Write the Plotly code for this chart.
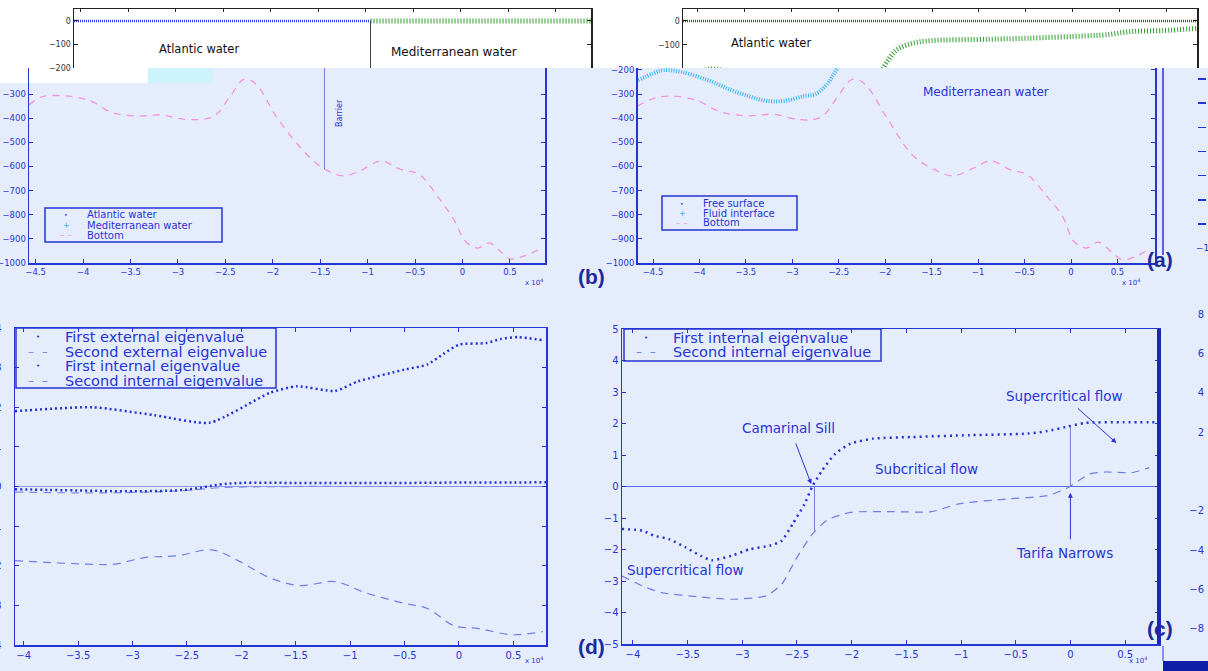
import plotly.graph_objects as go

W, H = 1208, 671
BLUE = "#2634d4"
DARK = "#1c2a9c"
BG = "#e5edfd"
PINK = "#f291e2"
CYAN = "#36b4ee"
GREEN = "#2e9e2e"
LBLUE = "#6f7de4"
FONT = "DejaVu Sans, Liberation Sans, Arial, sans-serif"
AFONT = "Liberation Sans, Arial, sans-serif"

# ---------------- data (x in units of 1e4 m) ----------------
# top-left strip: layers at free surface
atl_x = [-4.57, -1.45]
atl_y = [0, 0]
med_x = [-1.45, 0.87]
med_y = [0, 0]

# panel (b) bottom profile
bot_b_x = [-4.57, -4.43, -4.22, -4.06, -3.9, -3.7, -3.45, -3.17, -2.93, -2.68, -2.6, -2.44, -2.3,
           -2.18, -1.95, -1.67, -1.47, -1.26, -1.06, -0.86, -0.66, -0.45, -0.25, -0.09, 0.03, 0.16,
           0.28, 0.4, 0.5, 0.64, 0.84]
bot_b_y = [-345, -311, -307, -314, -332, -376, -391, -387, -405, -401, -387, -304, -238,
           -258, -401, -538, -607, -639, -614, -577, -611, -635, -731, -821, -910, -938,
           -917, -952, -983, -972, -938]
barrier_x = -1.455
barrier_bottom = -612

# panel (a) / right strip
surf_x = [-4.66, 0.83]
surf_y = [0, 0]
iface_x = [-4.66, -4.5, -4.39, -4.2, -3.91, -3.66, -3.45, -3.28, -3.08, -2.87, -2.75, -2.62, -2.55,
           -2.48, -2.38, -2.21, -2.01, -1.39, -0.98, -0.36, -0.15, 0.13, 0.46, 0.83]
iface_y = [-242, -215, -201, -208, -242, -283, -311, -328, -328, -308, -300, -256, -215,
           -170, -121, -93, -82, -76, -72, -62, -58, -44, -40, -31]
bot_a_x = [-4.67, -4.49, -4.32, -4.11, -3.99, -3.78, -3.49, -3.2, -2.95, -2.77, -2.66, -2.5, -2.35,
           -2.22, -2.0, -1.71, -1.5, -1.27, -1.05, -0.86, -0.67, -0.47, -0.26, -0.09, 0.03, 0.16,
           0.3, 0.45, 0.55, 0.7, 0.86]
bot_a_y = [-350, -318, -308, -318, -332, -373, -390, -384, -405, -405, -387, -304, -238,
           -258, -387, -552, -607, -639, -607, -577, -611, -635, -724, -807, -910, -938,
           -914, -959, -986, -972, -938]

# panel (d) eigenvalues
ext1_x = [-4.08, -3.37, -2.8, -2.29, -1.74, -1.49, -1.14, -0.93, -0.5, -0.29, -0.14, 0.0, 0.25, 0.38, 0.54, 0.77]
ext1_y = [1.9, 2.0, 1.8, 1.61, 2.36, 2.53, 2.41, 2.65, 2.95, 3.08, 3.35, 3.58, 3.62, 3.72, 3.77, 3.69]
ext2_x = [-4.08, -3.5, -3.0, -2.5, -2.2, -1.5, -1.0, -0.5, 0.0, 0.5, 0.8]
ext2_y = [-0.14, -0.16, -0.15, -0.1, -0.03, 0.0, 0.0, 0.0, 0.0, 0.0, 0.0]
int1d_x = [-4.08, -3.5, -3.0, -2.5, -2.2, -2.0, -1.5, -1.0, -0.5, 0.0, 0.5, 0.8]
int1d_y = [-0.07, -0.1, -0.12, -0.08, 0.05, 0.09, 0.09, 0.09, 0.09, 0.1, 0.1, 0.11]
int2d_x = [-4.08, -3.4, -3.17, -2.88, -2.59, -2.27, -2.03, -1.74, -1.46, -1.14, -0.86, -0.5, -0.29,
           -0.04, 0.17, 0.49, 0.77]
int2d_y = [-1.87, -1.96, -1.96, -1.79, -1.75, -1.6, -1.87, -2.3, -2.5, -2.4, -2.68, -2.95, -3.08,
           -3.52, -3.58, -3.74, -3.66]

# panel (c) internal eigenvalues
int1c_x = [-4.1, -3.91, -3.81, -3.67, -3.52, -3.38, -3.28, -3.1, -2.93, -2.75, -2.64, -2.54, -2.43,
           -2.36, -2.27, -2.15, -2.01, -1.8, -1.45, -0.92, -0.39, -0.21, -0.04, 0.14, 0.49, 0.81]
int1c_y = [-1.35, -1.4, -1.56, -1.67, -1.93, -2.2, -2.34, -2.2, -1.99, -1.88, -1.72, -1.19, -0.55,
           0.0, 0.51, 1.04, 1.36, 1.52, 1.57, 1.63, 1.68, 1.76, 1.89, 2.02, 2.04, 2.04]
int2c_x = [-4.1, -3.91, -3.74, -3.38, -3.1, -2.78, -2.64, -2.5, -2.36, -2.22, -2.01, -1.62, -1.27,
           -1.02, -0.56, -0.21, -0.04, 0.18, 0.32, 0.56, 0.72]
int2c_y = [-2.84, -3.16, -3.37, -3.51, -3.58, -3.47, -3.1, -2.25, -1.51, -1.06, -0.82, -0.8, -0.8,
           -0.55, -0.39, -0.29, -0.07, 0.4, 0.46, 0.44, 0.6]
sill_x = -2.34
sill_y = [0, -1.4]
tarifa_x = 0.0
tarifa_y = [1.9, 0]

x_ticks = [-4.5, -4, -3.5, -3, -2.5, -2, -1.5, -1, -0.5, 0, 0.5]


def fx(p):
    return p / W


def fy(p):
    return 1 - p / H


def xdom(a, b):
    return [fx(a), fx(b)]


def ydom(top, bottom):
    return [fy(bottom), fy(top)]


def fmt(v):
    if v == 0:
        return "0"
    s = ("%g" % abs(v))
    return ("\u2212" + s) if v < 0 else s


fig = go.Figure()

# ---- top-left strip (x, y) ----
fig.add_trace(go.Scatter(x=atl_x, y=atl_y, mode="lines", xaxis="x", yaxis="y", showlegend=False,
                         line=dict(color="#2a3ee0", width=2.5, dash="1px,1px")))
fig.add_trace(go.Scatter(x=med_x, y=med_y, mode="lines", xaxis="x", yaxis="y", showlegend=False,
                         line=dict(color=GREEN, width=5, dash="1px,2px")))
# ---- top-right strip (x2, y2) ----
fig.add_trace(go.Scatter(x=surf_x, y=surf_y, mode="lines", xaxis="x2", yaxis="y2", showlegend=False,
                         line=dict(color="#2a3ee0", width=2.5, dash="1px,1px")))
fig.add_trace(go.Scatter(x=iface_x, y=iface_y, mode="lines", xaxis="x2", yaxis="y2", showlegend=False,
                         line=dict(color=GREEN, width=5, dash="1px,2px", shape="spline")))

# ---- panel (b) (x3, y3) ----
fig.add_trace(go.Scatter(x=atl_x, y=atl_y, mode="lines", name="Atlantic water", xaxis="x3", yaxis="y3",
                         showlegend=False, line=dict(color=BLUE, width=2, dash="2px,3px")))
fig.add_trace(go.Scatter(x=med_x, y=med_y, mode="lines", name="Mediterranean water", xaxis="x3", yaxis="y3",
                         showlegend=False, line=dict(color=CYAN, width=3, dash="1px,2px")))
fig.add_trace(go.Scatter(x=bot_b_x, y=bot_b_y, mode="lines", name="Bottom", xaxis="x3", yaxis="y3",
                         showlegend=False, line=dict(color=PINK, width=1.3, dash="7px,6px", shape="spline")))

# ---- panel (a) (x4, y4) ----
fig.add_trace(go.Scatter(x=surf_x, y=surf_y, mode="lines", name="Free surface", xaxis="x4", yaxis="y4",
                         showlegend=False, line=dict(color=BLUE, width=2, dash="2px,3px")))
fig.add_trace(go.Scatter(x=iface_x, y=iface_y, mode="lines", name="Fluid interface", xaxis="x4", yaxis="y4",
                         showlegend=False, line=dict(color=CYAN, width=4, dash="1px,1.5px", shape="spline")))
fig.add_trace(go.Scatter(x=bot_a_x, y=bot_a_y, mode="lines", name="Bottom", xaxis="x4", yaxis="y4",
                         showlegend=False, line=dict(color=PINK, width=1.3, dash="7px,6px", shape="spline")))

# ---- panel (d) (x5, y5) ----
fig.add_trace(go.Scatter(x=ext1_x, y=ext1_y, mode="lines", name="First external eigenvalue", xaxis="x5",
                         yaxis="y5", showlegend=False,
                         line=dict(color=BLUE, width=2.5, dash="2px,3px", shape="spline", smoothing=0.6)))
fig.add_trace(go.Scatter(x=ext2_x, y=ext2_y, mode="lines", name="Second external eigenvalue", xaxis="x5",
                         yaxis="y5", showlegend=False,
                         line=dict(color="#7d8ae6", width=1.2, dash="8px,6px", shape="spline")))
fig.add_trace(go.Scatter(x=int1d_x, y=int1d_y, mode="lines", name="First internal eigenvalue", xaxis="x5",
                         yaxis="y5", showlegend=False,
                         line=dict(color=BLUE, width=2.5, dash="2px,3px", shape="spline")))
fig.add_trace(go.Scatter(x=int2d_x, y=int2d_y, mode="lines", name="Second internal eigenvalue", xaxis="x5",
                         yaxis="y5", showlegend=False,
                         line=dict(color=LBLUE, width=1.2, dash="8px,6px", shape="spline")))

# ---- panel (c) (x6, y6) ----
fig.add_trace(go.Scatter(x=int1c_x, y=int1c_y, mode="lines", name="First internal eigenvalue", xaxis="x6",
                         yaxis="y6", showlegend=False,
                         line=dict(color=BLUE, width=2.5, dash="2px,4px", shape="spline", smoothing=0.6)))
fig.add_trace(go.Scatter(x=int2c_x, y=int2c_y, mode="lines", name="Second internal eigenvalue", xaxis="x6",
                         yaxis="y6", showlegend=False,
                         line=dict(color=LBLUE, width=1.2, dash="8px,6px", shape="spline", smoothing=0.6)))
fig.add_trace(go.Scatter(x=[sill_x, sill_x], y=sill_y, mode="lines", xaxis="x6", yaxis="y6", showlegend=False,
                         line=dict(color=LBLUE, width=1)))
fig.add_trace(go.Scatter(x=[tarifa_x, tarifa_x], y=tarifa_y, mode="lines", xaxis="x6", yaxis="y6",
                         showlegend=False, line=dict(color=LBLUE, width=1)))

# dummy traces for edge axes
fig.add_trace(go.Scatter(x=[None], y=[None], xaxis="x7", yaxis="y7", showlegend=False))
fig.add_trace(go.Scatter(x=[None], y=[None], xaxis="x8", yaxis="y8", showlegend=False))

tf_small = dict(family=FONT, size=8.5, color=BLUE)
tf_big = dict(family=FONT, size=10, color=BLUE)
xtxt = [fmt(v) for v in x_ticks]

common_blue_x = dict(showgrid=False, zeroline=False, showline=True, linecolor=BLUE, linewidth=1.5,
                     ticks="inside", ticklen=4, tickcolor=BLUE, tickvals=x_ticks, ticktext=xtxt,
                     automargin=False)
ycommon = dict(showgrid=False, showline=True, linewidth=1.5, mirror="ticks", ticks="inside", ticklen=4,
               automargin=False)

layout = dict(
    template="none",
    width=W, height=H, margin=dict(l=0, r=0, t=0, b=0, pad=0), paper_bgcolor=BG, plot_bgcolor=BG,
    font=dict(family=FONT, color=BLUE), showlegend=False, hovermode=False,
    # top-left strip
    xaxis=dict(domain=xdom(74, 591), range=[-4.57, 0.87], anchor="y", side="top", showgrid=False,
               zeroline=False, showline=True, linecolor="#222", linewidth=1, ticks="inside", ticklen=3,
               tickcolor="#222", tickvals=x_ticks, showticklabels=False, automargin=False),
    yaxis=dict(domain=ydom(9, 68), range=[-201, 51], anchor="x", zeroline=False, linecolor="#222",
               tickcolor="#222", tickvals=[0, -100, -200], ticktext=["0", "\u2212100", "\u2212200"],
               tickfont=dict(family=FONT, size=8, color="#333"), **ycommon),
    # top-right strip
    xaxis2=dict(domain=xdom(683, 1197), range=[-4.66, 0.83], anchor="y2", side="top", showgrid=False,
                zeroline=False, showline=True, linecolor="#222", linewidth=1, ticks="inside", ticklen=3,
                tickcolor="#222", tickvals=x_ticks, showticklabels=False, automargin=False),
    yaxis2=dict(domain=ydom(9, 68), range=[-196, 50], anchor="x2", zeroline=False, linecolor="#222",
                tickcolor="#222", tickvals=[0, -100], ticktext=["0", "\u2212100"],
                tickfont=dict(family=FONT, size=8, color="#333"), **ycommon),
    # panel (b)
    xaxis3=dict(domain=xdom(29, 545), range=[-4.57, 0.87], anchor="y3", tickfont=tf_small, **common_blue_x),
    yaxis3=dict(domain=ydom(68, 263), range=[-1000, -192], anchor="x3", zeroline=False, linecolor=BLUE,
                tickcolor=BLUE, tickvals=[-300, -400, -500, -600, -700, -800, -900, -1000],
                tickfont=tf_small, **ycommon),
    # panel (a)
    xaxis4=dict(domain=xdom(637.5, 1155), range=[-4.667, 0.904], anchor="y4", tickfont=tf_small,
                **common_blue_x),
    yaxis4=dict(domain=ydom(68, 263), range=[-1000, -192], anchor="x4", zeroline=False, linecolor=BLUE,
                tickcolor=BLUE, dtick=100, tickfont=tf_small, **ycommon),
    # panel (d)
    xaxis5=dict(domain=xdom(15, 546), range=[-4.08, 0.8], anchor="y5", mirror="ticks", tickfont=tf_big,
                **common_blue_x),
    yaxis5=dict(domain=ydom(328, 645), range=[-4, 4], anchor="x5", zeroline=True, zerolinecolor="#8c98ea",
                zerolinewidth=1, linecolor=BLUE, tickcolor=BLUE, dtick=1, tickfont=tf_big,
                ticklabelstandoff=10, **ycommon),
    # panel (c)
    xaxis6=dict(domain=xdom(622, 1159), range=[-4.1, 0.81], anchor="y6", mirror="ticks", tickfont=tf_big,
                **common_blue_x),
    yaxis6=dict(domain=ydom(329, 644), range=[-5, 5], anchor="x6", zeroline=True, zerolinecolor="#5b6ae0",
                zerolinewidth=1, linecolor=BLUE, tickcolor=BLUE, dtick=1, tickfont=tf_big, **ycommon),
    # right-edge partial axes
    xaxis7=dict(domain=xdom(1198, 1207), range=[0, 1], anchor="y7", visible=False),
    yaxis7=dict(domain=ydom(68, 262), range=[-1057, -254.5], anchor="x7", showgrid=False, zeroline=False,
                showline=False, ticks="inside", ticklen=8, tickcolor=BLUE, tickwidth=1.5, automargin=False,
                tickvals=[-300, -400, -500, -600, -700, -800, -900], showticklabels=False),
    xaxis8=dict(domain=xdom(1205, 1207), range=[0, 1], anchor="y8", visible=False),
    yaxis8=dict(domain=ydom(300, 660), range=[-9.59, 8.72], anchor="x8", showgrid=False, zeroline=False,
                showline=False, ticks="", tickvals=[8, 6, 4, 2, -2, -4, -6, -8], tickfont=tf_big,
                automargin=False),
)
fig.update_layout(**layout)

shapes = [
    dict(type="rect", xref="paper", yref="paper", x0=0, x1=1, y0=fy(68), y1=1, fillcolor="white",
         line=dict(width=0), layer="below"),
    dict(type="rect", xref="paper", yref="paper", x0=0, x1=fx(148), y0=fy(83), y1=fy(68), fillcolor="white",
         line=dict(width=0), layer="below"),
    dict(type="rect", xref="paper", yref="paper", x0=fx(148), x1=fx(213), y0=fy(83), y1=fy(68),
         fillcolor="#cdf3fd", line=dict(width=0), layer="below"),
    dict(type="line", xref="x3", yref="y3", x0=barrier_x, x1=barrier_x, y0=-192, y1=barrier_bottom,
         line=dict(color=LBLUE, width=1)),
    dict(type="line", xref="x", yref="y", x0=med_x[0], x1=med_x[0], y0=0, y1=-201,
         line=dict(color="#444", width=1)),
    dict(type="line", xref="x6 domain", yref="y6 domain", x0=1, x1=1, y0=0, y1=1,
         line=dict(color="#1a28b8", width=4)),
    dict(type="line", xref="paper", yref="paper", x0=fx(1163), x1=fx(1163), y0=fy(255), y1=fy(68),
         line=dict(color=BLUE, width=1.5)),
    dict(type="rect", xref="paper", yref="paper", x0=fx(1163), x1=1, y0=0, y1=fy(661), fillcolor="#0e1ea8",
         line=dict(width=0)),
    dict(type="line", xref="paper", yref="paper", x0=fx(1163), x1=fx(1163), y0=fy(661), y1=fy(646),
         line=dict(color=BLUE, width=1)),
]

ann = []


def add_legend(box, rows, sym_x, lab_x, size):
    x0, y0, x1, y1 = box
    shapes.append(dict(type="rect", xref="paper", yref="paper", x0=fx(x0), x1=fx(x1), y0=fy(y1), y1=fy(y0),
                       line=dict(color=BLUE, width=1.5), layer="above"))
    for sym, scol, ssize, label, yy in rows:
        ann.append(dict(xref="paper", yref="paper", x=fx(sym_x), y=fy(yy), text=sym, showarrow=False,
                        xanchor="center", yanchor="middle", font=dict(family=FONT, size=ssize, color=scol)))
        ann.append(dict(xref="paper", yref="paper", x=fx(lab_x), y=fy(yy), text=label, showarrow=False,
                        xanchor="left", yanchor="middle", font=dict(family=FONT, size=size, color=BLUE)))


add_legend((45, 208, 222, 242),
           [("\u2022", BLUE, 6, "Atlantic water", 215), ("+", CYAN, 8, "Mediterranean water", 225),
            ("\u2013 \u2013", PINK, 9, "Bottom", 235)], 66, 85, 10)
add_legend((662, 196, 797, 230),
           [("\u2022", BLUE, 6, "Free surface", 203), ("+", CYAN, 8, "Fluid interface", 213),
            ("\u2013 \u2013", PINK, 9, "Bottom", 223)], 682, 701, 10)
add_legend((16, 328, 276, 388),
           [("\u2022", BLUE, 7, "First external eigenvalue", 337),
            ("\u2013  \u2013", "#7d8ae6", 12, "Second external eigenvalue", 352),
            ("\u2022", BLUE, 7, "First internal eigenvalue", 366),
            ("\u2013  \u2013", LBLUE, 12, "Second internal eigenvalue", 381)], 38, 63, 14.5)
add_legend((624, 329, 881, 361),
           [("\u2022", BLUE, 7, "First internal eigenvalue", 338),
            ("\u2013  \u2013", LBLUE, 12, "Second internal eigenvalue", 352.5)], 646, 671, 14.5)

# strip texts
ann.append(dict(xref="x", yref="y", x=-3.25, y=-119, text="Atlantic water", showarrow=False,
                font=dict(family=FONT, size=11.5, color="#111")))
ann.append(dict(xref="x", yref="y", x=-0.57, y=-132, text="Mediterranean water", showarrow=False,
                font=dict(family=FONT, size=12, color="#111")))
ann.append(dict(xref="x2", yref="y2", x=-3.72, y=-92, text="Atlantic water", showarrow=False,
                font=dict(family=FONT, size=11.5, color="#111")))
# panel b / a texts
ann.append(dict(xref="x3", yref="y3", x=-1.29, y=-378, text="Barrier", showarrow=False, textangle=-90,
                font=dict(family=FONT, size=8, color=BLUE)))
ann.append(dict(xref="x4", yref="y4", x=-0.92, y=-291, text="Mediterranean water", showarrow=False,
                font=dict(family=FONT, size=12, color=BLUE)))
# panel c texts and arrows
big = dict(family=FONT, size=13.5, color=BLUE)
ann.append(dict(xref="x6", yref="y6", x=-2.58, y=1.85, text="Camarinal Sill", showarrow=False, font=big))
ann.append(dict(xref="x6", yref="y6", x=-2.37, y=0.08, ax=-16, ay=-42, text="", showarrow=True,
                arrowhead=2, arrowsize=1, arrowwidth=1, arrowcolor=BLUE))
ann.append(dict(xref="x6", yref="y6", x=-1.32, y=0.56, text="Subcritical flow", showarrow=False, font=big))
ann.append(dict(xref="x6", yref="y6", x=-0.05, y=2.88, text="Supercritical flow", showarrow=False, font=big))
ann.append(dict(xref="x6", yref="y6", x=0.42, y=1.38, ax=-40, ay=-36, text="", showarrow=True,
                arrowhead=2, arrowsize=1, arrowwidth=1, arrowcolor=BLUE))
ann.append(dict(xref="x6", yref="y6", x=-0.05, y=-2.1, text="Tarifa Narrows", showarrow=False, font=big))
ann.append(dict(xref="x6", yref="y6", x=0.0, y=-0.2, ax=0, ay=48, text="", showarrow=True,
                arrowhead=2, arrowsize=1, arrowwidth=1, arrowcolor=BLUE))
ann.append(dict(xref="x6", yref="y6", x=-3.52, y=-2.65, text="Supercritical flow", showarrow=False, font=big))
# exponent labels
for xr, yr in [(534, 282), (1142, 282), (534, 667), (1149, 667)]:
    ann.append(dict(xref="paper", yref="paper", x=fx(xr), y=fy(yr), text="x 10<sup>4</sup>", showarrow=False,
                    font=dict(family=FONT, size=7, color=BLUE)))
# panel labels
for lbl, xr, yr in [("(b)", 591, 276), ("(a)", 1175, 259), ("(d)", 591, 660), ("(c)", 1175, 642)]:
    ann.append(dict(xref="paper", yref="paper", x=fx(xr), y=fy(yr), text="<b>" + lbl + "</b>", showarrow=False,
                    font=dict(family=AFONT, size=21, color=DARK)))
ann.append(dict(xref="paper", yref="y7", x=fx(1194), y=-1000, text="\u22121", showarrow=False, xanchor="left",
                font=dict(family=FONT, size=9, color=BLUE)))

fig.update_layout(shapes=shapes, annotations=ann)

fig.write_html("out.html", config={"displayModeBar": False, "staticPlot": True},
               post_script="document.body.style.margin='0px';")
